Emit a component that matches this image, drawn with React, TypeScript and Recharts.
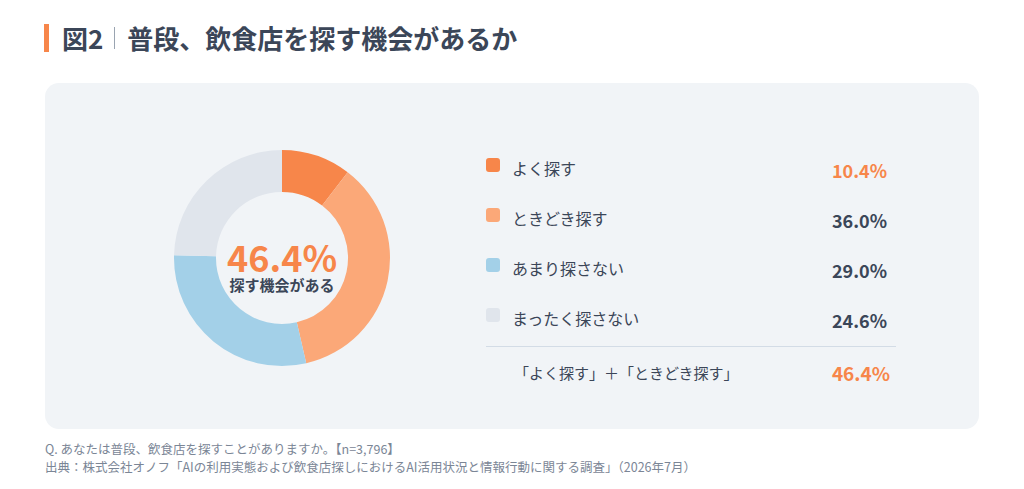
import { PieChart, Pie, Cell } from 'recharts';

const categories = ['よく探す', 'ときどき探す', 'あまり探さない', 'まったく探さない'];
const shares = [10.4, 36.0, 29.0, 24.6];
const colors = ['#f7864a', '#fba878', '#a3d0e8', '#e0e5ec'];
const highlight = [true, false, false, false];
const sumLabel = '「よく探す」＋「ときどき探す」';
const sumValue = 46.4;
const centerCaption = '探す機会がある';

const pieData = categories.map((name, i) => ({ name, value: shares[i] }));

const font = '"Noto Sans CJK JP", "Noto Sans", sans-serif';
const dark = '#3b4658';
const orange = '#f7864a';

export default function App() {
  return (
    <div
      style={{
        position: 'fixed',
        left: 0,
        top: 0,
        width: 1024,
        height: 489,
        background: '#ffffff',
        fontFamily: font,
        color: dark,
        overflow: 'hidden',
      }}
    >
      {/* title */}
      <div style={{ position: 'absolute', left: 44, top: 24, width: 5, height: 28, background: orange }} />
      <div
        style={{
          position: 'absolute',
          left: 62,
          top: 21,
          fontSize: 26,
          fontWeight: 700,
          lineHeight: '34px',
          whiteSpace: 'nowrap',
          display: 'flex',
          alignItems: 'center',
        }}
      >
        <span>図2</span>
        <span style={{ display: 'inline-block', width: 1, height: 22, background: '#9aa4b1', margin: '0 12px 0 11px' }} />
        <span>普段、飲食店を探す機会があるか</span>
      </div>

      {/* panel */}
      <div
        style={{
          position: 'absolute',
          left: 45,
          top: 83,
          width: 934,
          height: 346,
          borderRadius: 14,
          background: '#f1f4f7',
        }}
      />

      <div style={{ position: 'absolute', left: 157, top: 133 }}>
        <PieChart width={250} height={250} margin={{ top: 0, right: 0, bottom: 0, left: 0 }}>
          <Pie
            data={pieData}
            dataKey="value"
            nameKey="name"
            cx={125}
            cy={125}
            innerRadius={66}
            outerRadius={108}
            startAngle={90}
            endAngle={-270}
            stroke="none"
            isAnimationActive={false}
          >
            {pieData.map((d, i) => (
              <Cell key={d.name} fill={colors[i]} />
            ))}
          </Pie>
        </PieChart>
      </div>

      {/* center label */}
      <div
        style={{
          position: 'absolute',
          left: 202,
          top: 241,
          width: 160,
          textAlign: 'center',
          color: orange,
          fontSize: 36,
          fontWeight: 700,
          lineHeight: '30px',
        }}
      >
        {sumValue.toFixed(1)}%
      </div>
      <div
        style={{
          position: 'absolute',
          left: 202,
          top: 276,
          width: 160,
          textAlign: 'center',
          fontSize: 15,
          fontWeight: 700,
          lineHeight: '18px',
        }}
      >
        {centerCaption}
      </div>

      {/* legend */}
      {categories.map((name, i) => (
        <div key={name}>
          <div
            style={{
              position: 'absolute',
              left: 486,
              top: 158 + i * 50,
              width: 14,
              height: 14,
              borderRadius: 3,
              background: colors[i],
            }}
          />
          <div
            style={{
              position: 'absolute',
              left: 512,
              top: 156 + i * 50,
              fontSize: 16,
              lineHeight: '24px',
              whiteSpace: 'nowrap',
            }}
          >
            {name}
          </div>
          <div
            style={{
              position: 'absolute',
              left: 787,
              top: 158 + i * 50,
              width: 100,
              textAlign: 'right',
              fontSize: 18,
              fontWeight: 700,
              lineHeight: '24px',
              color: highlight[i] ? orange : dark,
            }}
          >
            {shares[i].toFixed(1)}%
          </div>
        </div>
      ))}

      <div style={{ position: 'absolute', left: 486, top: 346, width: 410, height: 1, background: '#d3dce6' }} />

      <div
        style={{ position: 'absolute', left: 514, top: 361, fontSize: 15, lineHeight: '24px', whiteSpace: 'nowrap' }}
      >
        {sumLabel}
      </div>
      <div
        style={{
          position: 'absolute',
          left: 790,
          top: 360,
          width: 100,
          textAlign: 'right',
          fontSize: 19,
          fontWeight: 700,
          lineHeight: '26px',
          color: orange,
        }}
      >
        {sumValue.toFixed(1)}%
      </div>

      {/* footer */}
      <div
        style={{
          position: 'absolute',
          left: 45,
          top: 440,
          fontSize: 12.5,
          lineHeight: '18px',
          color: '#7b8696',
          whiteSpace: 'nowrap',
        }}
      >
        <div>Q. あなたは普段、飲食店を探すことがありますか。【n=3,796】</div>
        <div>出典：株式会社オノフ「AIの利用実態および飲食店探しにおけるAI活用状況と情報行動に関する調査」（2026年7月）</div>
      </div>
    </div>
  );
}
